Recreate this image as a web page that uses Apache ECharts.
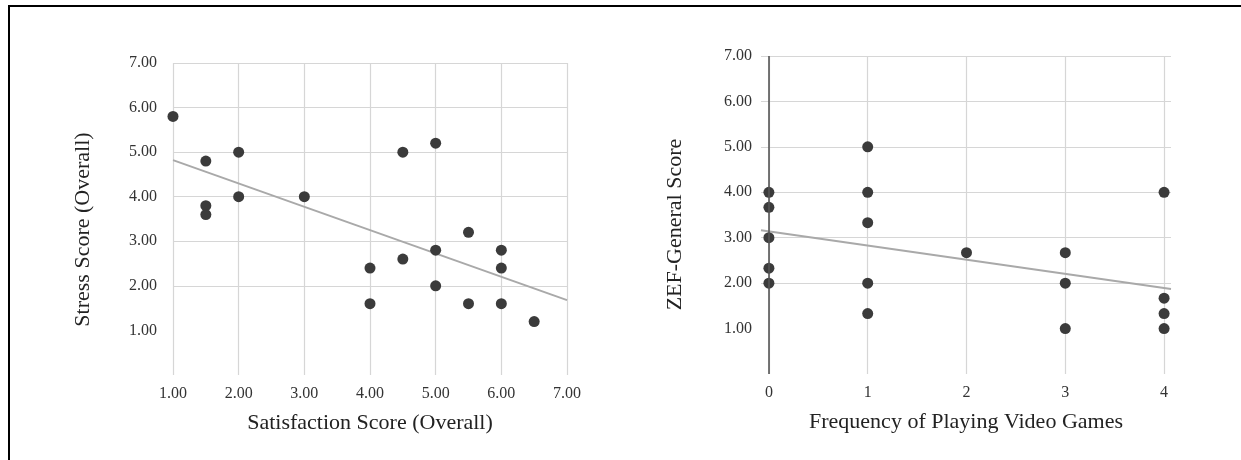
<!DOCTYPE html>
<html>
<head>
<meta charset="utf-8">
<script src="https://cdn.jsdelivr.net/npm/echarts@6/dist/echarts.min.js"></script>
<style>
  html, body { margin: 0; padding: 0; background: #fff; }
  #frame { position: absolute; left: 8px; top: 5px; width: 1233px; height: 455px;
           border-top: 2px solid #000; border-left: 2px solid #000; box-sizing: border-box; }
  #chart { position: absolute; left: 0; top: 0; width: 1241px; height: 460px; }
</style>
</head>
<body>
<div id="frame"></div>
<div id="chart"></div>
<script>
// ---- Left chart: Satisfaction vs Stress ----
const satisfaction = [1.0, 1.5, 1.5, 1.5, 2.0, 2.0, 3.0, 4.0, 4.0, 4.5, 4.5, 5.0, 5.0, 5.0, 5.5, 5.5, 6.0, 6.0, 6.0, 6.5];
const stress       = [5.8, 4.8, 3.8, 3.6, 5.0, 4.0, 4.0, 2.4, 1.6, 5.0, 2.6, 5.2, 2.8, 2.0, 3.2, 1.6, 2.8, 2.4, 1.6, 1.2];
const trendLeftX = [1.0, 7.0];
const trendLeftY = [4.82, 1.68];
const leftXTicks = [1, 2, 3, 4, 5, 6, 7];
const leftYTicks = [1, 2, 3, 4, 5, 6, 7];

// ---- Right chart: Video game frequency vs ZEF-General ----
const frequency = [0, 0, 0, 0, 0, 1, 1, 1, 1, 1, 2, 3, 3, 3, 4, 4, 4, 4];
const zefScore  = [4.0, 3.67, 3.0, 2.33, 2.0, 5.0, 4.0, 3.33, 2.0, 1.33, 2.67, 2.67, 2.0, 1.0, 4.0, 1.67, 1.33, 1.0];
const trendRightX = [-0.08, 4.07];
const trendRightY = [3.165, 1.87];
const rightXTicks = [0, 1, 2, 3, 4];
const rightYTicks = [1, 2, 3, 4, 5, 6, 7];

const zip = (a, b) => a.map((v, i) => [v, b[i]]);

const FONT = '"Liberation Serif", "DejaVu Serif", serif';
const gridLine = { show: true, lineStyle: { color: '#d6d6d6', width: 1.2 } };
const tickLabel = { color: '#333', fontFamily: FONT, fontSize: 16 };
const nameStyle = { color: '#222', fontFamily: FONT, fontSize: 22 };

const chart = echarts.init(document.getElementById('chart'), null, { renderer: 'canvas' });
chart.setOption({
  animation: false,
  backgroundColor: 'transparent',
  grid: [
    { left: 173, top: 63, width: 394, height: 312 },
    { left: 761, top: 56, width: 410, height: 318 }
  ],
  xAxis: [
    {
      gridIndex: 0, type: 'value', min: 1, max: 7,
      name: 'Satisfaction Score (Overall)', nameLocation: 'middle', nameGap: 37,
      nameTextStyle: nameStyle,
      axisLine: { show: false },
      axisTick: { show: false, customValues: leftXTicks },
      axisLabel: Object.assign({ margin: 11, customValues: leftXTicks, formatter: v => v.toFixed(2) }, tickLabel),
      splitLine: gridLine
    },
    {
      gridIndex: 1, type: 'value', min: trendRightX[0], max: trendRightX[1],
      name: 'Frequency of Playing Video Games', nameLocation: 'middle', nameGap: 37,
      nameTextStyle: nameStyle,
      axisLine: { show: false },
      axisTick: { show: false, customValues: rightXTicks },
      axisLabel: Object.assign({ margin: 11, customValues: rightXTicks, formatter: v => String(Math.round(v)) }, tickLabel),
      splitLine: gridLine
    }
  ],
  yAxis: [
    {
      gridIndex: 0, type: 'value', min: 0, max: 7,
      name: 'Stress Score (Overall)', nameLocation: 'middle', nameGap: 79, nameRotate: 90,
      nameTextStyle: Object.assign({ padding: [0, 21, 0, 0] }, nameStyle),
      axisLine: { show: false },
      axisTick: { show: false, customValues: leftYTicks },
      axisLabel: Object.assign({ margin: 16, customValues: leftYTicks, formatter: v => v.toFixed(2) }, tickLabel),
      splitLine: Object.assign({ showMinLine: false }, gridLine)
    },
    {
      gridIndex: 1, type: 'value', min: 0, max: 7,
      name: 'ZEF-General Score', nameLocation: 'middle', nameGap: 75, nameRotate: 90,
      nameTextStyle: Object.assign({ padding: [0, 19, 0, 0] }, nameStyle),
      axisLine: { show: false },
      axisTick: { show: false, customValues: rightYTicks },
      axisLabel: Object.assign({ margin: 9, customValues: rightYTicks, formatter: v => v.toFixed(2) }, tickLabel),
      splitLine: Object.assign({ showMinLine: false }, gridLine)
    }
  ],
  series: [
    {
      type: 'line', xAxisIndex: 0, yAxisIndex: 0, data: zip(trendLeftX, trendLeftY),
      symbol: 'none', lineStyle: { color: '#a9a9a9', width: 2 }, silent: true, z: 2
    },
    {
      type: 'scatter', xAxisIndex: 0, yAxisIndex: 0, data: zip(satisfaction, stress),
      symbolSize: 11, itemStyle: { color: '#3b3b3b', opacity: 1 }, z: 3
    },
    {
      type: 'line', xAxisIndex: 1, yAxisIndex: 1, data: zip(trendRightX, trendRightY),
      symbol: 'none', lineStyle: { color: '#a9a9a9', width: 2 }, silent: true, z: 2,
      markLine: {
        silent: true, symbol: 'none', label: { show: false },
        lineStyle: { color: '#555', width: 1.6, type: 'solid' },
        data: [{ xAxis: 0 }]
      }
    },
    {
      type: 'scatter', xAxisIndex: 1, yAxisIndex: 1, data: zip(frequency, zefScore),
      symbolSize: 11, itemStyle: { color: '#3b3b3b', opacity: 1 }, z: 3
    }
  ]
});
</script>
</body>
</html>
